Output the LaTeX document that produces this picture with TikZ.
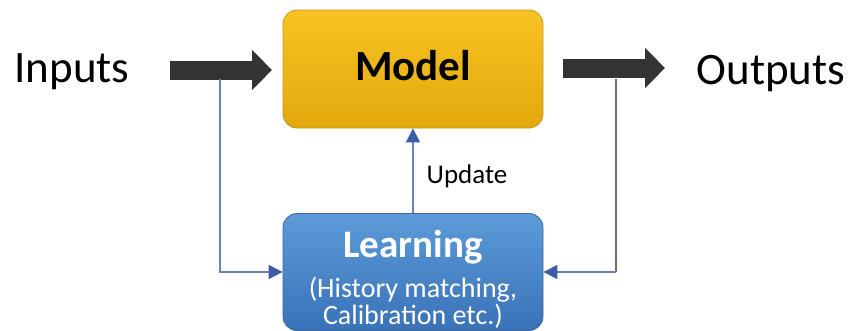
\documentclass[tikz,border=0pt]{standalone}
\usepackage{fontspec}
\setmainfont{Carlito}
\usetikzlibrary{arrows.meta}

\definecolor{goldtop}{HTML}{F8C322}
\definecolor{goldbot}{HTML}{E2A80C}
\definecolor{goldedge}{HTML}{C4981E}
\definecolor{bluetop}{HTML}{5C9BD8}
\definecolor{bluebot}{HTML}{3A72B8}
\definecolor{blueedge}{HTML}{3A66A2}
\definecolor{flowgray}{HTML}{333333}
\definecolor{fbblue}{HTML}{6F7FBD}
\definecolor{fbgray}{HTML}{6C6C76}
\definecolor{fbtip}{HTML}{3D5CA8}

% fixed baseline spacing for the multi-line block text
\newcommand\fixedlines{\lineskiplimit=-100pt\relax}

\tikzset{
  box/.style={rectangle, rounded corners=14pt, minimum width=260pt,
    inner sep=0pt, line width=0.8pt},
  bigarrow/.style={draw=flowgray, line width=19pt,
    -{Triangle[length=20pt,width=39pt,fill=flowgray]}},
  fbline/.style={line width=1.3pt,
    -{Triangle[length=14pt,width=14pt,fill=fbtip,color=fbtip]}},
  bigtext/.style={font=\fontsize{45}{54}\selectfont, anchor=base, inner sep=0pt}
}

\begin{document}
\begin{tikzpicture}[x=1pt,y=-1pt]
\useasboundingbox (0,0) rectangle (852,330);

% main blocks
\node[box, minimum height=118pt, top color=goldtop, bottom color=goldbot,
  draw=goldedge, font=\fontsize{43}{50}\selectfont\bfseries,
  text height=22pt, text depth=0pt] (model) at (413,69) {Model};

\node[box, minimum height=117pt, top color=bluetop, bottom color=bluebot,
  draw=blueedge, text=white, align=center,
  font=\fontsize{28}{27}\selectfont\fixedlines,
  text height=104pt, text depth=0pt] (learn) at (413,272)
  {{\fontsize{39}{40}\selectfont\bfseries Learning}\\[13pt]
   (History matching,\\ Calibration etc.)};

% side labels
\node[bigtext] (inputs) at (72,82) {Inputs};
\node[bigtext] (outputs) at (771,84) {Outputs};

% main flow arrows
\coordinate (inS) at (170,70);
\coordinate (inE) at (272,70);
\coordinate (outS) at (563,68);
\coordinate (outE) at (665,68);
\draw[bigarrow] (inS) -- (inE);
\draw[bigarrow] (outS) -- (outE);

% feedback loop
\coordinate (fbL) at (220,79);
\coordinate (fbR) at (616,79);
\coordinate (fbRc) at (fbR |- learn.east);
\draw[fbline, fbblue] (fbL) |- (learn.west);
\draw[line width=1.3pt, fbgray] (fbR) -- (fbRc);
\draw[fbline, fbblue] (fbRc) -- (learn.east);
\draw[fbline, fbblue] (learn.north) -- (model.south);
\node[font=\fontsize{27}{32}\selectfont, anchor=base, inner sep=0pt]
  (update) at (467,183) {Update};
\end{tikzpicture}
\end{document}
